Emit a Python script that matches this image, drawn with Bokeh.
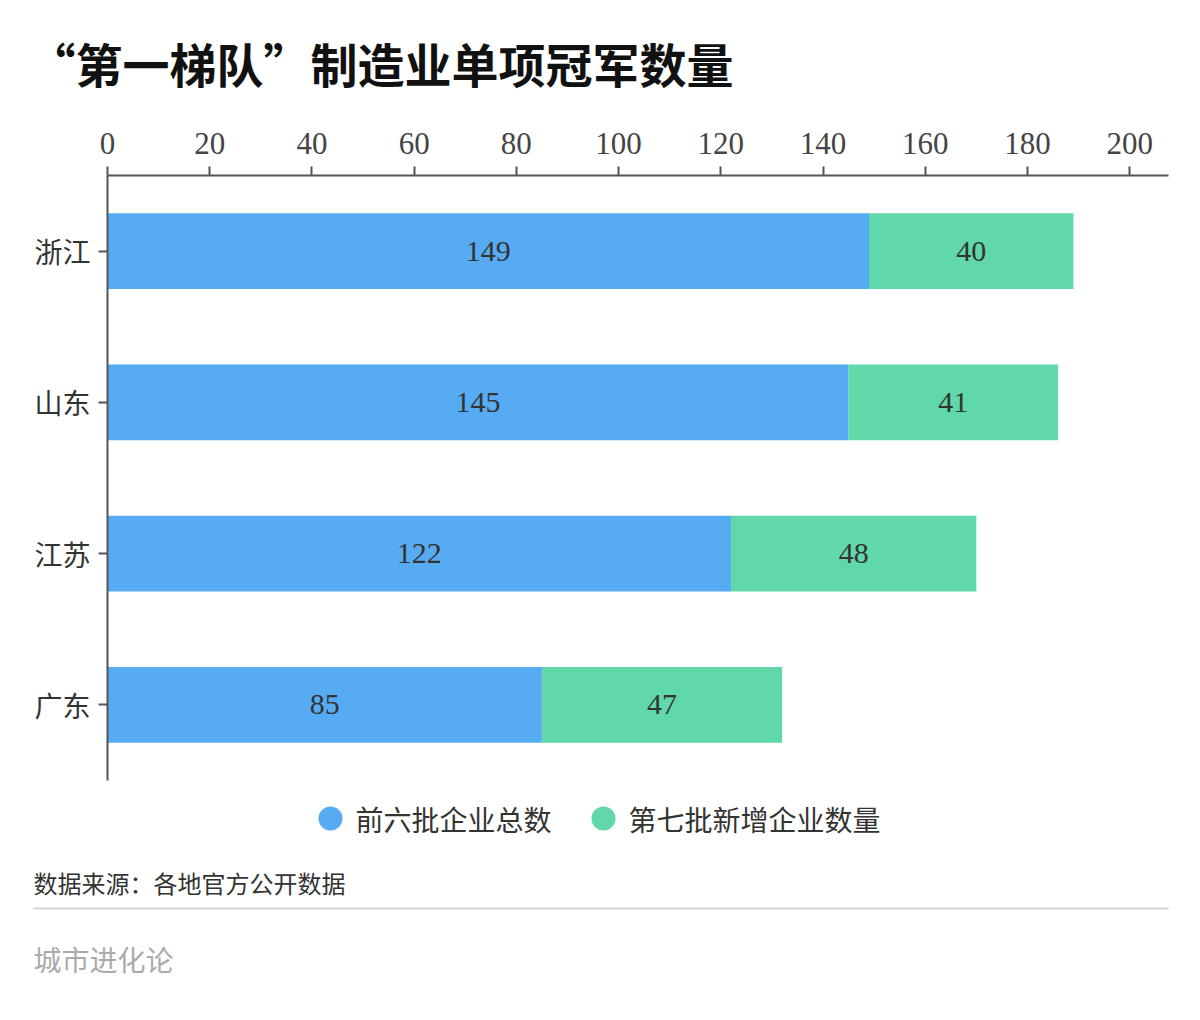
from bokeh.plotting import figure
from bokeh.layouts import column
from bokeh.models import (ColumnDataSource, FactorRange, Range1d, FixedTicker, LabelSet)
from bokeh.core.properties import value
from bokeh.embed import file_html
from bokeh.resources import INLINE

# ---- data ----
provinces = ["浙江", "山东", "江苏", "广东"]
prev_total = [149, 145, 122, 85]     # 前六批企业总数
new_added = [40, 41, 48, 47]         # 第七批新增企业数量
series_names = ["前六批企业总数", "第七批新增企业数量"]
x_ticks = [0, 20, 40, 60, 80, 100, 120, 140, 160, 180, 200]
title_text = "“第一梯队”制造业单项冠军数量"
source_text = "数据来源：各地官方公开数据"
brand_text = "城市进化论"

BLUE = "#57abf3"
GREEN = "#60d8a9"
CJK = "Noto Sans CJK SC"
NUM = "Liberation Serif"

W = 1200
TOP_H, CHART_H, BOT_H = 100, 700, 220


def no_align(f):
    if "frame_align" in f.properties():
        f.frame_align = False
    return f


def blank(h, y0):
    f = figure(width=W, height=h, output_backend="svg", toolbar_location=None,
               x_range=Range1d(0, W), y_range=Range1d(y0 + h, y0),
               x_axis_location=None, y_axis_location=None,
               min_border=0, min_border_left=0, min_border_right=0,
               min_border_top=0, min_border_bottom=0)
    f.title.visible = False
    f.outline_line_color = None
    f.grid.visible = False
    f.background_fill_color = "white"
    f.border_fill_color = "white"
    return no_align(f)


# ---- title strip ----
top = blank(TOP_H, 0)
top.text(x=[28], y=[62], text=[title_text], text_font=value(CJK),
         text_font_size="47px", text_font_style="bold", text_color="#111111",
         text_baseline="middle", text_align="left")

# ---- chart ----
src = ColumnDataSource(dict(
    prov=provinces,
    prev=prev_total,
    new=new_added,
    prev_mid=[v / 2 for v in prev_total],
    new_mid=[a + b / 2 for a, b in zip(prev_total, new_added)],
    prev_txt=[str(v) for v in prev_total],
    new_txt=[str(v) for v in new_added],
))

p = figure(width=W, height=CHART_H, output_backend="svg", toolbar_location=None,
           y_range=FactorRange(*reversed(provinces)),
           x_range=Range1d(0, 207.6), x_axis_location="above",
           min_border_left=107, min_border_right=32,
           min_border_top=75, min_border_bottom=20)
no_align(p)
p.title.visible = False
p.outline_line_color = None
p.background_fill_color = "white"
p.border_fill_color = "white"
p.grid.visible = False

p.hbar_stack(["prev", "new"], y="prov", height=0.5, color=[BLUE, GREEN],
             line_color=None, source=src)

for xcol, tcol in (("prev_mid", "prev_txt"), ("new_mid", "new_txt")):
    p.add_layout(LabelSet(x=xcol, y="prov", text=tcol, source=src,
                          text_align="center", text_baseline="middle",
                          text_font=NUM, text_font_size="30px", text_color="#333333"))

xa = p.xaxis[0]
xa.ticker = FixedTicker(ticks=x_ticks)
xa.minor_tick_line_color = None
xa.major_tick_in = 0
xa.major_tick_out = 9
xa.major_tick_line_color = "#555555"
xa.major_tick_line_width = 2
xa.axis_line_color = "#555555"
xa.axis_line_width = 2
xa.major_label_text_font = NUM
xa.major_label_text_font_size = "31px"
xa.major_label_text_color = "#444444"
xa.major_label_standoff = 13

ya = p.yaxis[0]
ya.major_tick_in = 0
ya.major_tick_out = 9
ya.major_tick_line_color = "#555555"
ya.major_tick_line_width = 2
ya.axis_line_color = "#555555"
ya.axis_line_width = 2
ya.major_label_text_font = CJK
ya.major_label_text_font_size = "28px"
ya.major_label_text_color = "#333333"
ya.major_label_standoff = 8

# ---- bottom strip: legend, source, rule, brand ----
y0 = TOP_H + CHART_H
bot = blank(BOT_H, y0)
bot.scatter(x=[330, 603], y=[818, 818], marker="circle", size=24,
            color=[BLUE, GREEN], line_color=None)
bot.text(x=[355, 628], y=[818, 818], text=series_names, text_font=value(CJK),
         text_font_size="28px", text_color="#333333",
         text_baseline="middle", text_align="left")
bot.text(x=[33], y=[882], text=[source_text], text_font=value(CJK),
         text_font_size="24px", text_color="#333333",
         text_baseline="middle", text_align="left")
bot.segment(x0=[33], y0=[908], x1=[1168], y1=[908], line_color="#d4d4d4", line_width=2)
bot.text(x=[33], y=[958], text=[brand_text], text_font=value(CJK),
         text_font_size="28px", text_color="#aaaaaa",
         text_baseline="middle", text_align="left")

layout = column(column(top), p, column(bot), spacing=0)
open("out.html", "w").write(file_html(layout, INLINE))
